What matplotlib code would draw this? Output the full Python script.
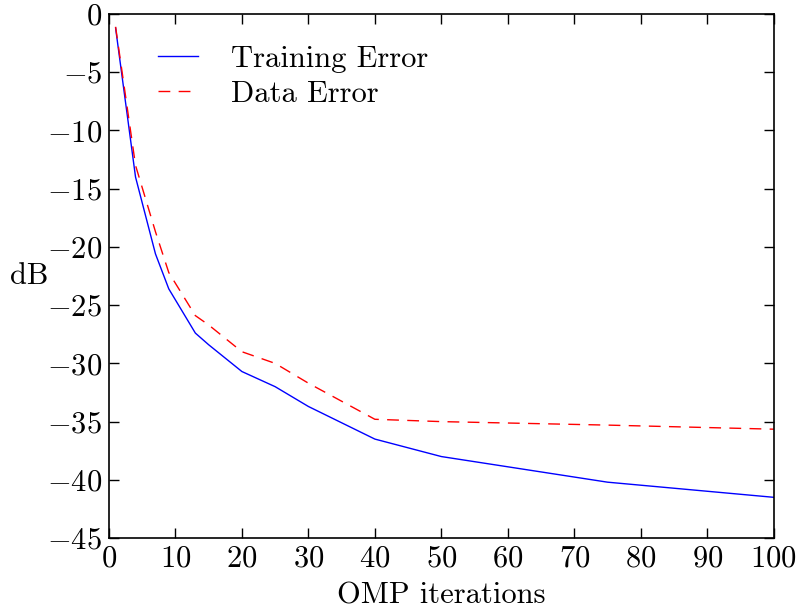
import matplotlib
matplotlib.use("Agg")
import matplotlib.pyplot as plt

# OMP iterations vs error (dB)
iterations = [1, 4, 7, 9, 13, 15, 20, 25, 30, 40, 50, 75, 100]
training_error = [-1.2, -14.0, -20.6, -23.6, -27.4, -28.4, -30.7, -32.0, -33.7, -36.5, -38.0, -40.2, -41.5]
data_error = [-1.1, -13.0, -18.7, -22.2, -25.9, -26.7, -29.0, -30.0, -31.7, -34.8, -35.0, -35.3, -35.65]

plt.rcParams["font.family"] = "serif"
plt.rcParams["font.serif"] = ["cmr10"]
plt.rcParams["mathtext.fontset"] = "cm"
plt.rcParams["axes.formatter.use_mathtext"] = True

fig = plt.figure(figsize=(8.01, 6.08), dpi=100)
ax = fig.add_axes([0.136, 0.115, 0.83, 0.862])

ax.plot(iterations, training_error, color="blue", linewidth=1.0, label="Training Error")
ax.plot(iterations, data_error, color="red", linewidth=1.0, dashes=(8.5, 6), label="Data Error")

ax.set_xlim(0, 100)
ax.set_ylim(-45, 0)
ax.set_xticks(range(0, 101, 10))
ax.set_yticks(range(-45, 1, 5))
ax.tick_params(direction="in", top=True, right=True, length=7, width=1, labelsize=22, pad=5)
for s in ax.spines.values():
    s.set_linewidth(1.2)

ax.set_xlabel("OMP iterations", fontsize=22, labelpad=7)
ax.set_ylabel("dB", fontsize=22, rotation=0, va="center")
ax.yaxis.set_label_coords(-0.12, 0.5)

ax.legend(loc="upper left", frameon=False, fontsize=22, handlelength=1.3,
          handletextpad=1.1, labelspacing=0.25, borderaxespad=0.0, borderpad=0.0,
          bbox_to_anchor=(0.074, 0.94))

fig.savefig("out.png", dpi=100)
